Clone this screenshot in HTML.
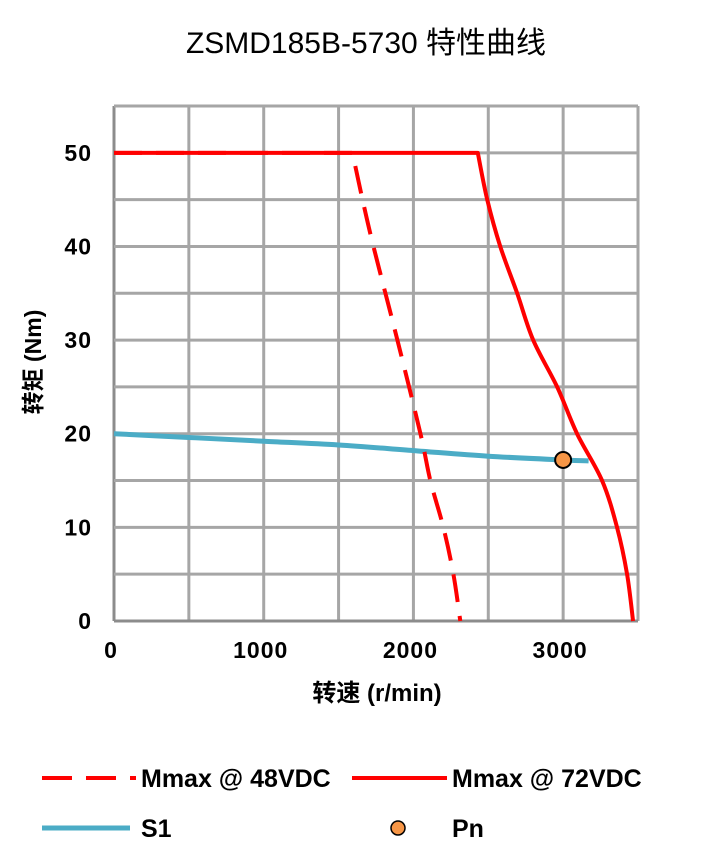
<!DOCTYPE html>
<html><head><meta charset="utf-8">
<style>
body{margin:0;background:#fff;}
svg text{font-family:"Liberation Sans","Noto Sans CJK SC",sans-serif;font-weight:bold;fill:#000;}
</style></head>
<body>
<svg id="chart" width="701" height="860" xmlns="http://www.w3.org/2000/svg">
<text x="366" y="53" font-size="30" text-anchor="middle" style="font-weight:normal">ZSMD185B-5730 特性曲线</text>
<g id="grid"></g>
<g id="ticks"></g>
<g id="series"></g>
<text x="377" y="701" font-size="24" text-anchor="middle">转速 (r/min)</text>
<text x="0" y="0" font-size="23" text-anchor="middle" transform="translate(41,362) rotate(-90)">转矩 (Nm)</text>
<g>
<g>
<line x1="42" y1="778" x2="136" y2="778" stroke="#f00" stroke-width="4" stroke-dasharray="30,14"/>
<text x="141" y="787" font-size="25">Mmax @ 48VDC</text></g>
<g>
<line x1="352" y1="778" x2="447" y2="778" stroke="#f00" stroke-width="4"/>
<text x="452" y="787" font-size="25">Mmax @ 72VDC</text></g>
<g>
<line x1="42" y1="828" x2="130" y2="828" stroke="#4bacc6" stroke-width="5"/>
<text x="141" y="837" font-size="25">S1</text></g>
<g>
<circle cx="398" cy="828" r="7" fill="#f79646" stroke="#000" stroke-width="1.5"/>
<text x="452" y="837" font-size="25">Pn</text></g>
</g>
</svg>
<script>
const xTicks=[0,1000,2000,3000];
const yTicks=[0,10,20,30,40,50];
const m48Speed=[0,1593,1660,1733,1893,2047,2113,2200,2267,2313];
const m48Torque=[50,50,45,40,30,20,15,10,5,0];
const m72Speed=[0,2430,2493,2580,2693,2800,2960,3093,3260,3360,3427,3467];
const m72Torque=[50,50,45,40,35,30,25,20,15,10,5,0];
const s1Speed=[0,500,1000,1500,2000,2500,3000,3170];
const s1Torque=[20.0,19.6,19.2,18.8,18.2,17.6,17.2,17.1];
const pnSpeed=[3000];
const pnTorque=[17.2];
const X0=114,X1=638,Y0=621,Y1=106,XMAX=3500,YMAX=55;
const sx=v=>X0+(X1-X0)*v/XMAX;
const sy=v=>Y0-(Y0-Y1)*v/YMAX;
const NS="http://www.w3.org/2000/svg";
function mk(tag,attrs,parent){const e=document.createElementNS(NS,tag);for(const k in attrs)e.setAttribute(k,attrs[k]);parent.appendChild(e);return e;}
const grid=document.getElementById('grid');
for(let v=0;v<=XMAX;v+=500){const l=mk('line',{x1:sx(v),x2:sx(v),y1:Y1,y2:Y0,stroke:v===0?'#8c8c8c':'#a6a6a6','stroke-width':3},grid);

}
for(let v=0;v<=YMAX;v+=5){const l=mk('line',{x1:X0,x2:X1,y1:sy(v),y2:sy(v),stroke:v===0?'#8c8c8c':'#a6a6a6','stroke-width':3},grid);

}
const ticks=document.getElementById('ticks');
xTicks.forEach(v=>{const t=mk('text',{x:sx(v)-3,y:658,'font-size':23,'text-anchor':'middle','letter-spacing':1},ticks);t.textContent=v;

});
yTicks.forEach(v=>{const t=mk('text',{x:92,y:sy(v)+8,'font-size':23,'text-anchor':'end','letter-spacing':1},ticks);t.textContent=v;

});
const ser=document.getElementById('series');
function smooth(xs,ys,fromIdx){
  const p=xs.map((x,i)=>[sx(x),sy(ys[i])]);
  let d='M'+p[0][0]+','+p[0][1];
  for(let i=1;i<p.length;i++){
    if(i<=fromIdx){d+=' L'+p[i][0]+','+p[i][1];continue;}
    const p0=p[Math.max(i-2,fromIdx)],p1=p[i-1],p2=p[i],p3=p[Math.min(i+1,p.length-1)];
    const c1=[p1[0]+(p2[0]-p0[0])/6,p1[1]+(p2[1]-p0[1])/6];
    const c2=[p2[0]-(p3[0]-p1[0])/6,p2[1]-(p3[1]-p1[1])/6];
    d+=' C'+c1[0]+','+c1[1]+' '+c2[0]+','+c2[1]+' '+p2[0]+','+p2[1];
  }
  return d;
}
const s1=mk('path',{d:smooth(s1Speed,s1Torque,0),fill:'none',stroke:'#4bacc6','stroke-width':5,'stroke-linejoin':'round'},ser);


const a=mk('path',{d:smooth(m48Speed,m48Torque,1),fill:'none',stroke:'#f00','stroke-width':4,'stroke-dasharray':'28,14','stroke-linejoin':'round'},ser);


const b=mk('path',{d:smooth(m72Speed,m72Torque,1),fill:'none',stroke:'#f00','stroke-width':4,'stroke-linejoin':'round'},ser);


pnSpeed.forEach((v,i)=>{const c=mk('circle',{cx:sx(v),cy:sy(pnTorque[i]),r:8,fill:'#f79646',stroke:'#000','stroke-width':2},ser);

});
</script>
</body></html>
